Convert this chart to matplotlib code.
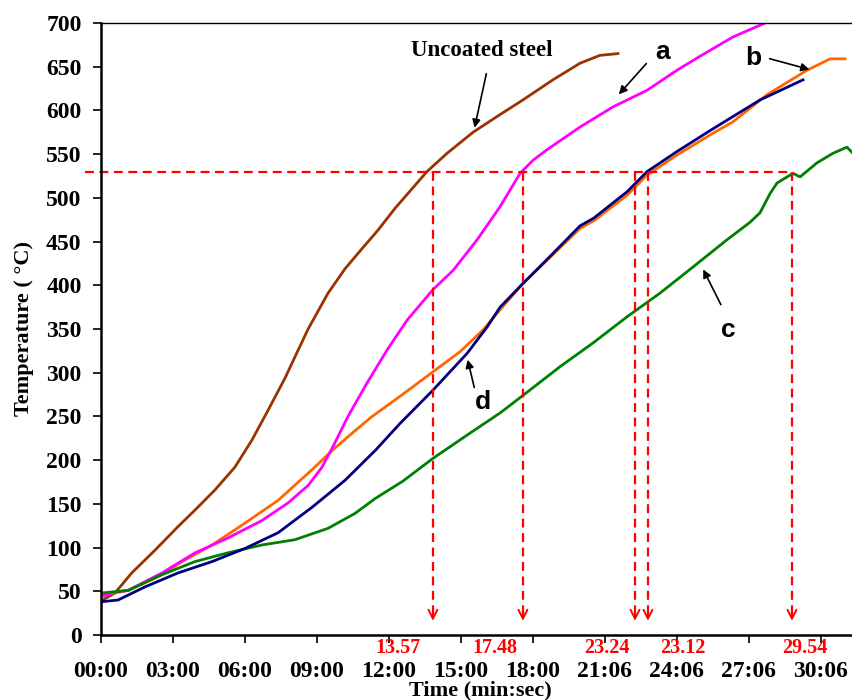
import matplotlib.pyplot as plt

# Time axis in minutes, temperatures in degC
uncoated_t = [0, 0.58, 1.28, 2.25, 3.21, 3.92, 4.75, 5.58, 6.29, 6.96, 7.67, 8.08, 8.63,
              9.46, 10.17, 10.88, 11.54, 12.25, 13.58, 14.42, 15.5, 16.5, 17.58, 18.83,
              19.96, 20.79, 21.54]
uncoated_T = [39, 48, 71, 97, 124, 143, 166, 192, 223, 257, 294, 318, 350,
              391, 419, 442, 463, 488, 530, 551, 575, 593, 612, 635,
              654, 663, 665]

a_t = [0, 0.58, 1.13, 2.54, 3.92, 5.29, 6.71, 7.79, 8.63, 9.21, 9.75, 10.29, 11.08, 11.92,
       12.75, 13.83, 14.67, 15.67, 16.63, 17.46, 18.0, 18.58, 19.96, 21.33, 22.75, 24.0,
       24.96, 26.33, 27.67]
a_T = [44, 49, 51, 71, 94, 111, 131, 151, 171, 192, 220, 250, 288, 326,
       360, 395, 417, 452, 490, 528, 543, 555, 581, 604, 623, 646,
       662, 684, 700]

b_t = [0, 1.13, 2.54, 3.38, 4.63, 6.0, 7.38, 8.79, 9.71, 10.6, 11.3, 12.46, 13.83, 14.96,
       15.92, 16.63, 17.58, 18.71, 19.96, 20.54, 21.92, 22.75, 24.0, 25.38, 26.33, 27.75,
       29.42, 30.38, 31.0]
b_T = [45, 51, 69, 84, 103, 128, 154, 189, 213, 234, 250, 273, 301, 324,
       349, 372, 402, 432, 465, 474, 503, 526, 549, 572, 587, 618,
       646, 659, 659]

c_t = [0, 1.13, 2.54, 3.92, 5.29, 6.71, 8.08, 9.46, 10.58, 11.42, 12.58, 13.83, 15.38,
       16.63, 17.58, 18.71, 19.13, 20.5, 21.92, 23.29, 24.67, 26.08, 27.04, 27.46, 27.88,
       28.17, 28.71, 28.83, 29.13, 29.83, 30.5, 31.08, 31.33]
c_T = [48, 51, 69, 84, 94, 103, 109, 122, 139, 156, 176, 202, 231,
       254, 274, 298, 307, 334, 364, 391, 421, 452, 472, 483, 505,
       517, 526, 528, 524, 540, 551, 558, 551]

d_t = [0, 0.71, 1.83, 3.21, 4.63, 6.0, 7.38, 8.79, 10.17, 11.46, 12.46, 13.83, 15.25,
       16.08, 16.63, 17.58, 18.71, 19.96, 20.54, 21.92, 22.75, 24.0, 25.38, 27.46, 29.25]
d_T = [38, 40, 55, 71, 84, 99, 117, 146, 177, 212, 242, 280, 322,
       352, 375, 402, 433, 468, 477, 507, 530, 553, 577, 612, 635]

# 530 degC critical temperature and the times where curves reach it
crit_T = 530
crit_times = [13.83, 17.58, 22.25, 22.79, 28.79]
crit_labels = ['13.57', '17.48', '23.24', '23.12', '29.54']
crit_label_x = [12.38, 16.42, 21.08, 24.25, 29.33]

xtick_pos = [0, 3, 6, 9, 12, 15, 18, 21, 24, 27, 30]
xtick_labels = ['00:00', '03:00', '06:00', '09:00', '12:00', '15:00', '18:00',
                '21:06', '24:06', '27:06', '30:06']

plt.rcParams['font.family'] = ['Liberation Serif', 'DejaVu Serif']

fig = plt.figure(figsize=(8.53, 7.0), dpi=100)
ax = fig.add_axes([101 / 853, 65 / 700, 752 / 853, 612 / 700])

lw = 2.0
ax.plot(uncoated_t, uncoated_T, color='#993300', lw=lw)
ax.plot(b_t, b_T, color='#FF6600', lw=lw)
ax.plot(a_t, a_T, color='#FF00FF', lw=lw)
ax.plot(c_t, c_T, color='#008000', lw=lw)
ax.plot(d_t, d_T, color='#000080', lw=lw)

# red dashed construction lines
dash = (0, (4, 2.5))
ax.plot([-0.67, crit_times[-1]], [crit_T, crit_T], color='red', lw=1.6,
        linestyle=dash, clip_on=False)
for t in crit_times:
    ax.plot([t, t], [crit_T, 18], color='red', lw=1.6, linestyle=dash)
    ax.annotate('', xy=(t, 13), xytext=(t, 32),
                arrowprops=dict(arrowstyle='->', color='red', lw=1.4,
                                mutation_scale=16))
for x, lab in zip(crit_label_x, crit_labels):
    ax.text(x, -15, lab, color='red', fontsize=14.5, fontweight='bold',
            ha='center', va='center', clip_on=False)

# curve labels
ax.text(15.88, 668, 'Uncoated steel', fontsize=16.5, fontweight='bold',
        ha='center', va='center')
ax.annotate('', xy=(15.54, 577), xytext=(16.08, 645),
            arrowprops=dict(arrowstyle='-|>', color='black', lw=1.2, mutation_scale=12))
sans = ['Liberation Sans', 'DejaVu Sans']
ax.text(23.38, 667, 'a', fontsize=19, fontweight='bold', family=sans,
        ha='center', va='center')
ax.annotate('', xy=(21.5, 616), xytext=(22.8, 656),
            arrowprops=dict(arrowstyle='-|>', color='black', lw=1.2, mutation_scale=12))
ax.text(27.17, 660, 'b', fontsize=19, fontweight='bold', family=sans,
        ha='center', va='center')
ax.annotate('', xy=(29.63, 646), xytext=(27.75, 660),
            arrowprops=dict(arrowstyle='-|>', color='black', lw=1.2, mutation_scale=12))
ax.text(26.13, 349, 'c', fontsize=19, fontweight='bold', family=sans,
        ha='center', va='center')
ax.annotate('', xy=(25.04, 421), xytext=(25.88, 375),
            arrowprops=dict(arrowstyle='-|>', color='black', lw=1.2, mutation_scale=12))
ax.text(15.92, 266, 'd', fontsize=19, fontweight='bold', family=sans,
        ha='center', va='center')
ax.annotate('', xy=(15.25, 318), xytext=(15.58, 280),
            arrowprops=dict(arrowstyle='-|>', color='black', lw=1.2, mutation_scale=12))

ax.set_xlim(0, 752 / 24)
ax.set_ylim(0, 700)
ax.set_xticks(xtick_pos)
ax.set_xticklabels(xtick_labels)
ax.set_yticks(range(0, 701, 50))
ax.tick_params(axis='both', direction='out', length=6, width=1.2, labelsize=17)
ax.tick_params(axis='x', pad=13)
ax.tick_params(axis='y', pad=8)
for lab in ax.get_xticklabels() + ax.get_yticklabels():
    lab.set_fontweight('bold')

ax.spines['right'].set_visible(False)
for s in ['left', 'bottom']:
    ax.spines[s].set_linewidth(1.8)
ax.spines['top'].set_linewidth(1.0)

fig.text(480 / 853, 1 - 690 / 700, 'Time (min:sec)', fontsize=16, fontweight='bold',
         ha='center', va='center')
ax.set_ylabel('Temperature ( °C)', fontsize=16, fontweight='bold', labelpad=9)

fig.savefig('out.png', dpi=100)
